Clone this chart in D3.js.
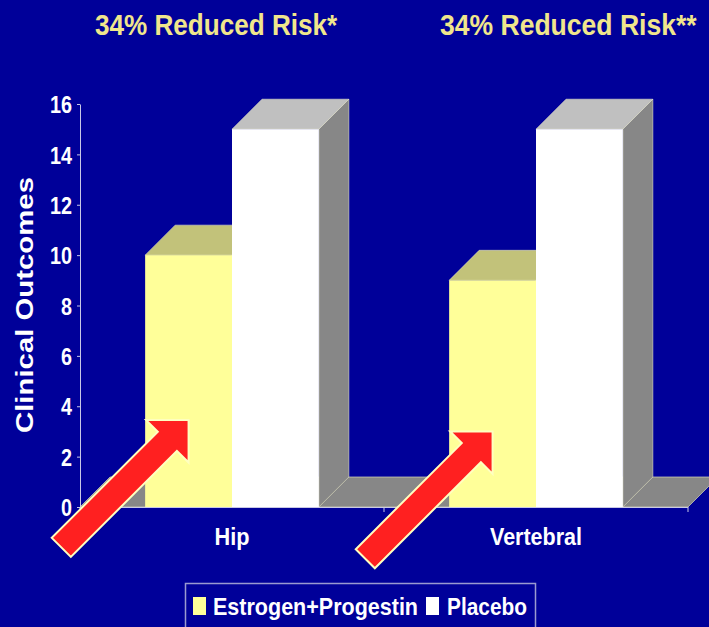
<!DOCTYPE html>
<html>
<head>
<meta charset="utf-8">
<script src="https://cdn.jsdelivr.net/npm/d3@7"></script>
<style>
  html, body { margin: 0; padding: 0; background: #000099; }
  svg { display: block; }
  text { font-family: "Liberation Sans", Arial, sans-serif; font-weight: bold; }
</style>
</head>
<body>
<svg id="chart" width="709" height="627"></svg>
<script>
// Fracture outcomes by site
const categories = ["Hip", "Vertebral"];
const seriesNames = ["Estrogen+Progestin", "Placebo"];
const estrogenProgestin = [10, 9];
const placebo = [15, 15];
const yTicks = [0, 2, 4, 6, 8, 10, 12, 14, 16];
const headlines = ["34% Reduced Risk*", "34% Reduced Risk**"];
// arrows pointing at the treatment bars (value = height of arrow tip)
const arrowTargets = [
  { category: "Hip", value: 3.45 },
  { category: "Vertebral", value: 3.0 }
];

const seriesValues = [estrogenProgestin, placebo];
const frontColors = ["#ffff99", "#ffffff"];
const topColors = ["#c2c27a", "#c0c0c0"];
const sideColors = ["#a0a070", "#878787"];

const svg = d3.select("#chart");
const W = 709, H = 627;
svg.append("rect").attr("width", W).attr("height", H).attr("fill", "#000099");

const plotLeft = 80, plotRight = 688, plotBottom = 507, plotTop = 104;
const depthX = 30, depthY = -30;

const x = d3.scaleBand().domain(categories).range([plotLeft, plotRight]).padding(0);
const xs = d3.scaleBand().domain(seriesNames).range([0, x.bandwidth()])
  .paddingInner(0).paddingOuter(0.75);
const y = d3.scaleLinear().domain([0, 16]).range([plotBottom, plotTop]);

// floor of the 3D plot
svg.append("path")
  .attr("d", d3.line()([
    [x.range()[0], y(0)], [x.range()[1], y(0)],
    [x.range()[1] + depthX, y(0) + depthY], [x.range()[0] + depthX, y(0) + depthY]
  ]) + "Z")
  .attr("fill", "#878787")
  .attr("stroke", "#d8d8b8").attr("stroke-width", 0.7);

// 3D bars
const edge = { stroke: "#ecebc8", "stroke-width": 0.7, "stroke-opacity": 0.8 };
function applyEdge(sel) { Object.entries(edge).forEach(([k, v]) => sel.attr(k, v)); return sel; }

categories.forEach((cat, ci) => {
  seriesNames.forEach((s, si) => {
    const v = seriesValues[si][ci];
    const x0 = x(cat) + xs(s), w = xs.bandwidth();
    const yv = y(v), y0 = y(0);
    const g = svg.append("g");
    // right side face
    applyEdge(g.append("path")
      .attr("d", d3.line()([[x0 + w, yv], [x0 + w + depthX, yv + depthY], [x0 + w + depthX, y0 + depthY], [x0 + w, y0]]) + "Z")
      .attr("fill", sideColors[si]));
    // top face
    applyEdge(g.append("path")
      .attr("d", d3.line()([[x0, yv], [x0 + depthX, yv + depthY], [x0 + w + depthX, yv + depthY], [x0 + w, yv]]) + "Z")
      .attr("fill", topColors[si]));
    // front face
    g.append("rect")
      .attr("x", x0).attr("y", yv).attr("width", w).attr("height", y0 - yv)
      .attr("fill", frontColors[si]);
  });
});

// x axis line and category separators
const axisColor = "#c8c8e6";
svg.append("line")
  .attr("x1", x.range()[0]).attr("x2", x.range()[1])
  .attr("y1", y(0) + 0.5).attr("y2", y(0) + 0.5)
  .attr("stroke", axisColor).attr("stroke-width", 1);
const bounds = categories.map(c => x(c)).concat([x.range()[1]]);
svg.selectAll("line.sep").data(bounds).join("line")
  .attr("class", "sep")
  .attr("x1", d => d).attr("x2", d => d)
  .attr("y1", y(0)).attr("y2", y(0) + 5)
  .attr("stroke", axisColor).attr("stroke-width", 1);

// category labels
const xAxis = svg.append("g")
  .attr("transform", `translate(0,${y(0)})`)
  .call(d3.axisBottom(x).tickSize(0).tickPadding(0));
xAxis.select(".domain").remove();
xAxis.selectAll("text")
  .attr("y", 38).attr("dy", null)
  .attr("fill", "#ffffff")
  .attr("font-size", 24)
  .attr("font-family", "'Liberation Sans', Arial, sans-serif")
  .attr("font-weight", "bold")
  .attr("lengthAdjust", "spacingAndGlyphs")
  .attr("textLength", d => d === "Hip" ? 35 : 92);

// y axis
const yAxis = svg.append("g")
  .attr("transform", `translate(${plotLeft},0)`)
  .call(d3.axisLeft(y).tickValues(yTicks).tickSize(3).tickPadding(5).tickSizeOuter(0));
yAxis.select(".domain").attr("stroke", axisColor).attr("stroke-width", 1);
yAxis.selectAll(".tick line").attr("stroke", axisColor);
yAxis.selectAll("text")
  .attr("fill", "#ffffff")
  .attr("font-size", 24)
  .attr("font-family", "'Liberation Sans', Arial, sans-serif")
  .attr("font-weight", "bold")
  .attr("dy", "0.36em")
  .attr("lengthAdjust", "spacingAndGlyphs")
  .attr("textLength", d => String(d).length * 11);

// y axis title
svg.append("text")
  .attr("transform", "translate(33,305) rotate(-90)")
  .attr("text-anchor", "middle")
  .attr("fill", "#ffffff")
  .attr("font-size", 24)
  .attr("lengthAdjust", "spacingAndGlyphs")
  .attr("textLength", 256)
  .text("Clinical Outcomes");

// headlines above each group (horizontally condensed)
const headX = [95, 440], headScale = [0.87, 0.885];
svg.selectAll("text.head").data(headlines).join("text")
  .attr("class", "head")
  .attr("transform", (d, i) => `translate(${headX[i]},35) scale(${headScale[i]},1)`)
  .attr("fill", "#f0e68c")
  .attr("font-size", 30)
  .text(d => d);

// arrows
const arrowShape = [[0, 0], [-30, -30], [-30, -13.5], [-180, -13.5], [-180, 13.5], [-30, 13.5], [-30, 30]];
svg.selectAll("path.arrow").data(arrowTargets).join("path")
  .attr("class", "arrow")
  .attr("transform", d => `translate(${x(d.category) + xs(seriesNames[0]) + xs.bandwidth() / 2},${y(d.value)}) rotate(-45)`)
  .attr("d", d3.line()(arrowShape) + "Z")
  .attr("fill", "#ff2020")
  .attr("stroke", "#ffffc0")
  .attr("stroke-width", 2)
  .attr("stroke-linejoin", "miter");

// legend
const legend = svg.append("g");
legend.append("rect")
  .attr("x", 185.5).attr("y", 583.5).attr("width", 350).attr("height", 60)
  .attr("fill", "none").attr("stroke", "#9a9ad0").attr("stroke-width", 1.5);
const legItems = [
  { swatchX: 193, textX: 213, textW: 205 },
  { swatchX: 426, textX: 447, textW: 80 }
];
seriesNames.forEach((s, i) => {
  legend.append("rect")
    .attr("x", legItems[i].swatchX).attr("y", 597).attr("width", 13).attr("height", 18)
    .attr("fill", frontColors[i]);
  legend.append("text")
    .attr("x", legItems[i].textX).attr("y", 615)
    .attr("fill", "#ffffff")
    .attr("font-size", 24)
    .attr("lengthAdjust", "spacingAndGlyphs")
    .attr("textLength", legItems[i].textW)
    .text(s);
});
</script>
</body>
</html>
